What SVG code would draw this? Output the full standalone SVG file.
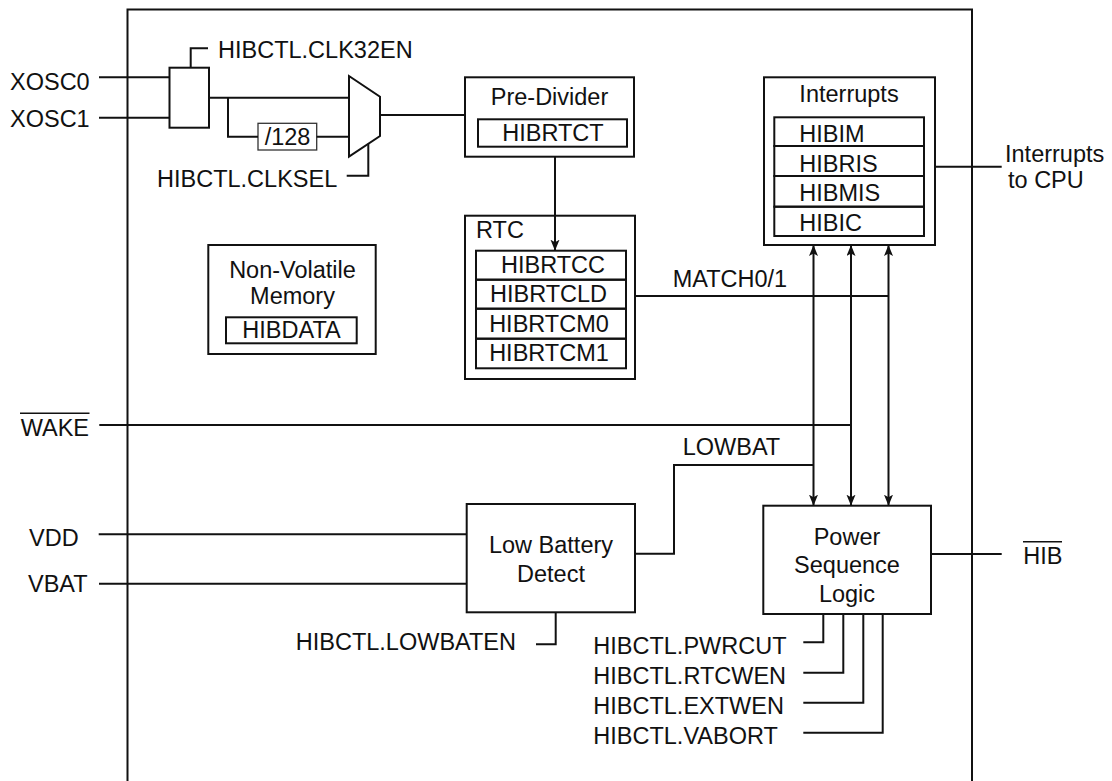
<svg xmlns="http://www.w3.org/2000/svg" width="1112" height="781" viewBox="0 0 1112 781">
<style>
text{font-family:"Liberation Sans",Arial,sans-serif;font-size:23.5px;fill:#111}
.m{text-anchor:middle}
.e{text-anchor:end}
.b{fill:#fff;stroke:#111;stroke-width:2}
.r{fill:none;stroke:#111;stroke-width:2}
.w{fill:none;stroke:#111;stroke-width:2}
.ov{stroke:#111;stroke-width:1.6}
.ahp{fill:#111;stroke:none}
</style>
<defs>
<marker id="ah" markerUnits="userSpaceOnUse" markerWidth="12" markerHeight="10" refX="11" refY="4.5" orient="auto-start-reverse">
<path class="ahp" d="M0,0 L11,4.5 L0,9 L2.5,4.5 z"/>
</marker>
</defs>
<rect id="boundary" x="127.5" y="9.5" width="844.5" height="800" fill="none" stroke="#111" stroke-width="2"/>

<g id="inputs">
<text x="10" y="90">XOSC0</text>
<text x="10" y="127">XOSC1</text>
<text x="20.7" y="435.7">WAKE</text>
<line class="ov" x1="20" y1="413.3" x2="89.5" y2="413.3"/>
<text x="29" y="545.7">VDD</text>
<text x="28" y="592.3">VBAT</text>
</g>

<g id="clk-enable">
<rect class="b" x="169.5" y="67.7" width="39.5" height="60"/>
<text x="218" y="58.3">HIBCTL.CLK32EN</text>
</g>

<g id="div128">
<rect x="258" y="123.3" width="58.7" height="26.7" fill="#fff" stroke="#333" stroke-width="1.3"/>
<text class="m" x="287.5" y="145">/128</text>
</g>

<g id="clk-mux">
<polygon class="b" points="349,76 380,96.7 380,136 349,156.7"/>
<text x="157" y="186.7">HIBCTL.CLKSEL</text>
</g>

<g id="pre-divider">
<rect class="b" x="465" y="77.3" width="169" height="79.4"/>
<text class="m" x="549.5" y="105">Pre-Divider</text>
<rect class="r" x="478" y="119.3" width="149" height="27.4"/>
<text class="m" x="553" y="141">HIBRTCT</text>
</g>

<g id="rtc">
<rect class="b" x="465" y="215.7" width="170" height="163.3"/>
<text x="476" y="238.3">RTC</text>
<rect class="r" x="476" y="250.7" width="150" height="29"/>
<rect class="r" x="476" y="279.7" width="150" height="29"/>
<rect class="r" x="476" y="308.7" width="150" height="30"/>
<rect class="r" x="476" y="338.7" width="150" height="29.6"/>
<text class="m" x="553" y="273.3">HIBRTCC</text>
<text class="m" x="548.5" y="302">HIBRTCLD</text>
<text class="m" x="549" y="331.7">HIBRTCM0</text>
<text class="m" x="549" y="360.5">HIBRTCM1</text>
<text x="672.7" y="286.7">MATCH0/1</text>
</g>

<g id="nv-memory">
<rect class="b" x="208.3" y="245" width="167.4" height="109"/>
<text class="m" x="292.5" y="278.3">Non-Volatile</text>
<text class="m" x="292.5" y="304">Memory</text>
<rect class="r" x="226" y="317.3" width="130.7" height="26"/>
<text class="m" x="291.5" y="338.3">HIBDATA</text>
</g>

<g id="interrupts">
<rect class="b" x="764" y="77.3" width="171" height="167.7"/>
<text class="m" x="849" y="101.7">Interrupts</text>
<rect class="r" x="774.3" y="117.3" width="149.7" height="28.7"/>
<rect class="r" x="774.3" y="146" width="149.7" height="30"/>
<rect class="r" x="774.3" y="176" width="149.7" height="30.7"/>
<rect class="r" x="774.3" y="206.7" width="149.7" height="29.3"/>
<text x="799.3" y="141.7">HIBIM</text>
<text x="799.3" y="171.7">HIBRIS</text>
<text x="799.3" y="201">HIBMIS</text>
<text x="799.3" y="231">HIBIC</text>
<text x="1005" y="161.7">Interrupts</text>
<text x="1008" y="188.3">to CPU</text>
</g>

<g id="low-battery-detect">
<rect class="b" x="466.7" y="504" width="168.3" height="108.3"/>
<text class="m" x="551" y="553.3">Low Battery</text>
<text class="m" x="551" y="581.7">Detect</text>
<text class="e" x="516" y="650">HIBCTL.LOWBATEN</text>
<text x="682.7" y="455">LOWBAT</text>
</g>

<g id="power-sequence-logic">
<rect class="b" x="763.3" y="505.7" width="167.7" height="108.3"/>
<text class="m" x="847" y="545">Power</text>
<text class="m" x="847" y="573">Sequence</text>
<text class="m" x="847" y="601.5">Logic</text>
<text x="593.3" y="654">HIBCTL.PWRCUT</text>
<text x="593.3" y="683.5">HIBCTL.RTCWEN</text>
<text x="593.3" y="713.5">HIBCTL.EXTWEN</text>
<text x="593.3" y="743.5">HIBCTL.VABORT</text>
<text x="1023.3" y="564.3">HIB</text>
<line class="ov" x1="1023" y1="541.7" x2="1062" y2="541.7"/>
</g>

<g id="connectors" class="w">
<path d="M99,77.3H169.5"/>
<path d="M99,117.7H169.5"/>
<path d="M190.7,67.7V48.3H208"/>
<path d="M209,97.7H349"/>
<path d="M228,97.7V136.7H258"/>
<path d="M316.7,136.7H349"/>
<path d="M368.3,143.8V175.7H346.7"/>
<path d="M380,115H465"/>
<path d="M555,156.7V250.7" marker-end="url(#ah)"/>
<path d="M635,296H888.5"/>
<path d="M935,166.7H1001.7"/>
<path d="M813.5,245V505.7" marker-start="url(#ah)" marker-end="url(#ah)"/>
<path d="M851,245V505.7" marker-start="url(#ah)" marker-end="url(#ah)"/>
<path d="M888.5,245V505.7" marker-start="url(#ah)" marker-end="url(#ah)"/>
<path d="M99.3,425H851"/>
<path d="M635,553.7H674V465H813.5"/>
<path d="M98.7,534.3H466.7"/>
<path d="M99,583.7H466.7"/>
<path d="M555.7,612.3V644.3H536"/>
<path d="M931,554H1001.7"/>
<path d="M823.3,614V642.3H803.3"/>
<path d="M843.3,614V672.7H803.3"/>
<path d="M863.3,614V702.7H803.3"/>
<path d="M882.7,614V732.7H803.3"/>
</g>
</svg>
